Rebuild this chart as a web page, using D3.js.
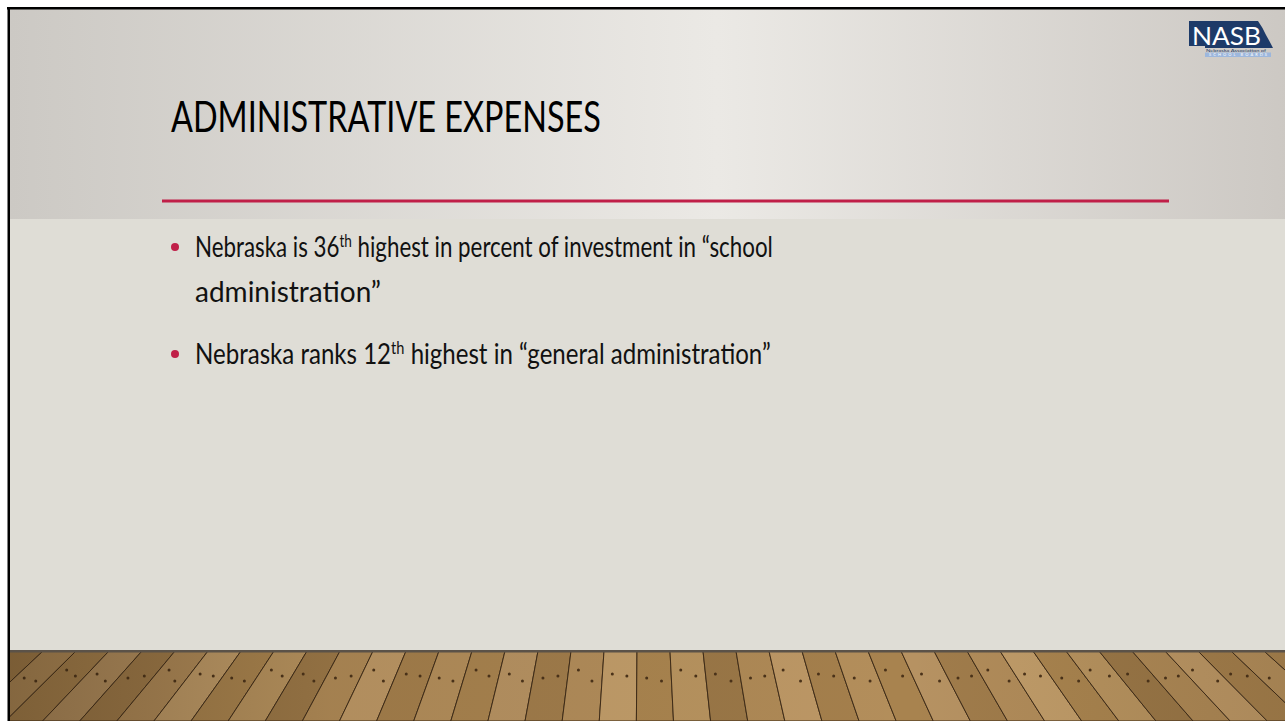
<!DOCTYPE html><html>
<head>
<meta charset="utf-8">
<title>Administrative expenses</title>
<style>
  body { margin: 0; background: #fff; }
  svg  { display: block; }
  text { font-family: Lato, "Open Sans", sans-serif; }
</style>
</head><body>
<svg width="1285" height="721"></svg>

<script src="https://cdn.jsdelivr.net/npm/d3@7"></script>
<script>
// slide content
var title      = 'ADMINISTRATIVE EXPENSES';
var bulletText = [
  ['Nebraska is 36', 'th', ' highest in percent of investment in \u201Cschool'],
  ['administration\u201D'],
  ['Nebraska ranks 12', 'th', ' highest in \u201Cgeneral administration\u201D']
];
var bulletDot  = [true, false, true];
var lineWidths = [578, 191, 576];      // measured line widths in the picture
var lineBase   = [257, 302, 364];

// floor: plank tones, repeated left to right
var plankTones = ['#a8834f', '#b69262', '#a07c4b', '#b18c5a', '#c09c69', '#a9844f',
                  '#b7935f', '#9a7747', '#ae8956', '#bc9765', '#a47f4c', '#b38e5b'];

var svg = d3.select('svg');
var W = 1285, H = 721, X0 = 10, Y0 = 9, FLOOR = 651;

var defs = svg.append('defs');
var hg = defs.append('linearGradient').attr('id', 'head');
hg.append('stop').attr('offset', '0%').attr('stop-color', '#ccc9c4');
hg.append('stop').attr('offset', '55%').attr('stop-color', '#ebe9e5');
hg.append('stop').attr('offset', '100%').attr('stop-color', '#ccc8c3');

var sh = defs.append('linearGradient').attr('id', 'shade');
sh.append('stop').attr('offset', '0%').attr('stop-color', '#2e1e0c').attr('stop-opacity', .35);
sh.append('stop').attr('offset', '25%').attr('stop-color', '#2e1e0c').attr('stop-opacity', .08);
sh.append('stop').attr('offset', '70%').attr('stop-color', '#2e1e0c').attr('stop-opacity', 0);
sh.append('stop').attr('offset', '100%').attr('stop-color', '#2e1e0c').attr('stop-opacity', .12);

defs.append('clipPath').attr('id', 'slide')
  .append('rect').attr('x', X0).attr('y', Y0).attr('width', W - X0).attr('height', H - Y0);

var g = svg.append('g').attr('clip-path', 'url(#slide)');

// wall
g.append('rect').attr('x', X0).attr('y', Y0).attr('width', W).attr('height', FLOOR - Y0).attr('fill', '#dfddd6');
g.append('rect').attr('x', X0).attr('y', Y0).attr('width', W).attr('height', 219 - Y0).attr('fill', 'url(#head)');

// floor in perspective
var vp = { x: 642, y: 89 };
var x = d3.scaleLinear().domain([0, 60]).range([-320, 1660]);
var planks = d3.range(60).map(function(i) { return { a: x(i), b: x(i + 1), tone: plankTones[i % plankTones.length] }; });
function atY(xt, y) { return vp.x + (xt - vp.x) * (y - vp.y) / (FLOOR - vp.y); }

var floor = g.append('g');
floor.selectAll('path.plank')
    .data(planks)
  .enter()
    .append('path')
    .attr('class', 'plank')
    .attr('d', function(d) {
      return 'M' + d.a + ',' + FLOOR + 'L' + d.b + ',' + FLOOR +
             'L' + atY(d.b, H) + ',' + H + 'L' + atY(d.a, H) + ',' + H + 'Z';
    })
    .attr('fill', function(d) { return d.tone; })
    .attr('stroke', '#3f2c18').attr('stroke-width', 1);

// nail holes
floor.selectAll('circle.nail')
    .data(planks.flatMap(function(d, i) {
      var m = (d.a + d.b) / 2;
      return [{ m: m, y: 670 + (i % 3) * 4, o: -7 }, { m: m, y: 676 + (i % 2) * 5, o: 7 }];
    }))
  .enter()
    .append('circle')
    .attr('class', 'nail')
    .attr('cx', function(d) { return atY(d.m + d.o, d.y); })
    .attr('cy', function(d) { return d.y; })
    .attr('r', 1.5)
    .attr('fill', '#4a3219');

floor.append('rect').attr('x', X0).attr('y', FLOOR).attr('width', W).attr('height', H - FLOOR).attr('fill', 'url(#shade)');
floor.append('rect').attr('x', X0).attr('y', FLOOR - 1).attr('width', W).attr('height', 2.5).attr('fill', '#5b5248');

// slide border (top and left)
svg.append('rect').attr('x', 7).attr('y', 7).attr('width', W).attr('height', 2.5).attr('fill', '#000');
svg.append('rect').attr('x', 7.5).attr('y', 7).attr('width', 2.5).attr('height', H).attr('fill', '#000');

// squeeze a text group to the width it has in the picture
function fit(gr, node, width) {
  var k = Math.min(1, width / node.getComputedTextLength());
  gr.attr('transform', gr.attr('transform') + ' scale(' + k + ',1)');
}

// title and rule
var tg = svg.append('g').attr('transform', 'translate(171,132)');
var t = tg.append('text').attr('font-size', 42).attr('fill', '#000').text(title);
fit(tg, t.node(), 430);

svg.append('line')
    .attr('x1', 162).attr('x2', 1169).attr('y1', 201).attr('y2', 201)
    .attr('stroke', '#c01f48').attr('stroke-width', 3);

// bullets
bulletText.forEach(function(parts, i) {
  if (bulletDot[i]) {
    svg.append('circle').attr('cx', 175).attr('cy', lineBase[i] - 10).attr('r', 4).attr('fill', '#c01f48');
  }
  var bg = svg.append('g').attr('transform', 'translate(195,' + lineBase[i] + ')');
  var tx = bg.append('text').attr('font-size', 28).attr('fill', '#111');
  parts.forEach(function(p, j) {
    var s = tx.append('tspan').text(p);
    if (j === 1) s.attr('font-size', 17).attr('dy', -10);
    if (j === 2) s.attr('dy', 10);
  });
  fit(bg, tx.node(), lineWidths[i]);
});

// NASB logo
var logo = svg.append('g');
logo.append('path')
    .attr('d', 'M1189,21 L1258,21 Q1263,28 1266,35 Q1270,42 1273,48 L1205,48 L1205,46 L1189,46 Z')
    .attr('fill', '#1d3a68');
logo.append('text')
    .attr('x', 1192).attr('y', 44.5)
    .attr('font-family', '"Liberation Serif", serif').attr('font-size', 25)
    .attr('textLength', 69).attr('lengthAdjust', 'spacingAndGlyphs')
    .attr('fill', '#fff').text('NASB');
logo.append('text')
    .attr('x', 1206).attr('y', 51.5)
    .attr('font-family', '"Liberation Serif", serif').attr('font-size', 4.5)
    .attr('textLength', 60).attr('lengthAdjust', 'spacingAndGlyphs')
    .attr('fill', '#1d3a68').text('Nebraska Association of');
logo.append('rect').attr('x', 1205).attr('y', 52.5).attr('width', 66).attr('height', 4.5).attr('fill', '#9db7dc');
logo.append('text')
    .attr('x', 1209).attr('y', 56.3)
    .attr('font-family', '"Liberation Serif", serif').attr('font-size', 4)
    .attr('textLength', 58).attr('lengthAdjust', 'spacing')
    .attr('fill', '#fff').text('SCHOOL BOARDS');
</script>
</body></html>
